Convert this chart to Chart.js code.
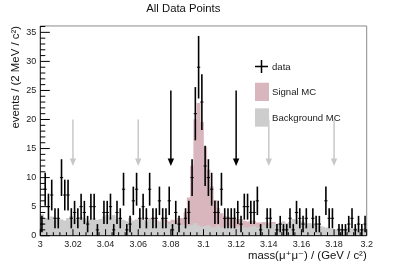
<!DOCTYPE html>
<html>
<head>
<meta charset="utf-8">
<script src="https://cdn.jsdelivr.net/npm/chart.js@4.4.0/dist/chart.umd.min.js"></script>
<style>
  html, body { margin: 0; padding: 0; background: #fff; }
  #wrap { width: 407px; height: 263px; }
</style>
</head>
<body>
<div id="wrap"><canvas id="myChart" width="407" height="263"></canvas></div>
<script>
// histogram binning: 100 bins of 2 MeV from 3.0 to 3.2 GeV
const binLow = 3.0;
const binWidth = 0.002;

// data counts per bin
const dataCounts = [
    2, 8, 5, 7, 3, 3, 10, 7, 7, 3,
    4, 3, 5, 4, 2, 5, 5, 1, 0, 4,
    4, 5, 1, 4, 3, 8, 1, 2, 6, 8,
    3, 5, 3, 8, 3, 3, 6, 3, 3, 6,
    1, 4, 2, 0, 3, 4, 10, 21, 29, 23,
    12, 10, 8, 4, 4, 8, 3, 3, 3, 3,
    4, 2, 5, 5, 4, 4, 6, 1, 0, 3,
    3, 0, 1, 2, 1, 1, 3, 1, 4, 3,
    2, 3, 0, 3, 2, 2, 0, 6, 3, 3,
    0, 1, 1, 1, 2, 3, 1, 2, 1, 2
];

// background MC (grey)
const backgroundMC = [
    3.6, 3.0, 2.8, 3.2, 2.6, 2.9, 2.7, 2.5, 3.0, 3.3,
    2.8, 2.6, 3.1, 2.9, 2.4, 2.7, 3.0, 2.6, 2.8, 3.2,
    3.5, 3.1, 3.4, 2.8, 3.0, 2.6, 2.4, 2.9, 2.5, 2.7,
    2.8, 2.5, 2.3, 2.9, 2.6, 2.4, 2.2, 2.6, 2.3, 2.0,
    2.2, 1.9, 2.1, 1.7, 1.9, 1.6, 1.8, 2.1, 1.7, 1.5,
    1.6, 1.8, 1.4, 1.5, 1.7, 1.3, 1.5, 1.6, 1.4, 1.3,
    1.5, 1.6, 1.4, 1.3, 1.5, 1.6, 1.4, 1.5, 1.7, 1.6,
    1.8, 2.0, 1.7, 1.9, 2.2, 2.0, 2.3, 2.8, 2.6, 2.4,
    2.2, 2.0, 2.1, 1.9, 1.8, 1.6, 1.5, 1.3, 1.2, 1.1,
    1.0, 1.2, 1.1, 1.0, 1.3, 1.1, 1.2, 1.0, 1.1, 1.2
];

// signal MC (pink), stacked on top of background
const signalMC = [
    0, 0, 0, 0, 0, 0, 0, 0, 0, 0,
    0, 0, 0, 0, 0, 0, 0, 0, 0, 0,
    0, 0, 0, 0, 0, 0, 0, 0, 0, 0,
    0.1, 0.1, 0.1, 0.1, 0.2, 0.2, 0.2, 0.3, 0.3, 0.4,
    0.5, 0.7, 0.9, 1.3, 2.1, 4.9, 10.2, 17.9, 21.1, 18.0,
    13.7, 9.5, 7.0, 4.6, 3.0, 2.5, 1.8, 1.6, 1.6, 1.5,
    1.3, 1.2, 1.1, 1.1, 1.0, 0.9, 0.8, 0.7, 0.6, 0.5,
    0.4, 0.3, 0.3, 0.2, 0.2, 0.1, 0, 0, 0, 0,
    0, 0, 0, 0, 0, 0, 0, 0, 0, 0,
    0, 0, 0, 0, 0, 0, 0, 0, 0, 0
];

const binCenters = dataCounts.map((_, i) => +(binLow + binWidth * (i + 0.5)).toFixed(4));

const xTickValues = [3, 3.02, 3.04, 3.06, 3.08, 3.1, 3.12, 3.14, 3.16, 3.18, 3.2];
const xTickLabels = ['3', '3.02', '3.04', '3.06', '3.08', '3.1', '3.12', '3.14', '3.16', '3.18', '3.2'];
const yTickValues = [0, 5, 10, 15, 20, 25, 30, 35];

// signal window arrows (black) and sideband arrows (grey)
const blackArrowX = [3.08, 3.12];
const greyArrowX = [3.02, 3.06, 3.14, 3.18];
const blackArrowTop = 25;
const greyArrowTop = 20;
const arrowTip = 12;

const FONT = '"Liberation Sans", Arial, "DejaVu Sans", sans-serif';
const PINK = 'rgb(217, 182, 190)';
const GREY = 'rgb(205, 205, 205)';

function drawArrow(ctx, px, yTop, yTip, color) {
    ctx.strokeStyle = color;
    ctx.fillStyle = color;
    ctx.lineWidth = 1.5;
    ctx.beginPath();
    ctx.moveTo(px, yTop);
    ctx.lineTo(px, yTip - 6);
    ctx.stroke();
    ctx.beginPath();
    ctx.moveTo(px - 3.2, yTip - 7.5);
    ctx.lineTo(px + 3.2, yTip - 7.5);
    ctx.lineTo(px, yTip);
    ctx.closePath();
    ctx.fill();
}

const rootStyle = {
    id: 'rootStyle',
    afterDatasetsDraw(chart) {
        const ctx = chart.ctx;
        const xs = chart.scales.x;
        const ys = chart.scales.y;
        const area = chart.chartArea;
        ctx.save();

        // arrows
        greyArrowX.forEach(v => drawArrow(ctx, xs.getPixelForValue(v), ys.getPixelForValue(greyArrowTop), ys.getPixelForValue(arrowTip), 'rgb(200,200,200)'));
        blackArrowX.forEach(v => drawArrow(ctx, xs.getPixelForValue(v), ys.getPixelForValue(blackArrowTop), ys.getPixelForValue(arrowTip), '#000'));

        // data points with error bars
        ctx.strokeStyle = '#000';
        ctx.fillStyle = '#000';
        dataCounts.forEach((n, i) => {
            if (n == 0) return;
            const err = Math.sqrt(n);
            const px = xs.getPixelForValue(binCenters[i]);
            const py = ys.getPixelForValue(n);
            ctx.lineWidth = 1.6;
            ctx.beginPath();
            ctx.moveTo(px, ys.getPixelForValue(n + err));
            ctx.lineTo(px, ys.getPixelForValue(Math.max(n - err, 0)));
            ctx.stroke();
            ctx.lineWidth = 1;
            ctx.beginPath();
            ctx.moveTo(xs.getPixelForValue(binCenters[i] - binWidth / 2), py);
            ctx.lineTo(xs.getPixelForValue(binCenters[i] + binWidth / 2), py);
            ctx.stroke();
        });

        // frame
        ctx.lineWidth = 1;
        ctx.strokeStyle = 'rgb(140,140,140)';
        ctx.beginPath();
        ctx.moveTo(area.left, area.top);
        ctx.lineTo(area.right, area.top);
        ctx.lineTo(area.right, area.bottom);
        ctx.stroke();
        ctx.strokeStyle = '#000';
        ctx.beginPath();
        ctx.moveTo(area.left, area.top);
        ctx.lineTo(area.left, area.bottom);
        ctx.lineTo(area.right, area.bottom);
        ctx.stroke();

        // inward ticks, ROOT style
        for (let v = 0; v <= 36; v++) {
            const py = ys.getPixelForValue(v);
            const len = v % 5 == 0 ? 9.5 : 5;
            ctx.beginPath();
            ctx.moveTo(area.left, py);
            ctx.lineTo(area.left + len, py);
            ctx.stroke();
        }
        for (let k = 0; k <= 50; k++) {
            const px = xs.getPixelForValue(binLow + k * 0.004);
            const len = k % 5 == 0 ? 6.5 : 3.5;
            ctx.beginPath();
            ctx.moveTo(px, area.bottom);
            ctx.lineTo(px, area.bottom - len);
            ctx.stroke();
        }

        // legend
        ctx.lineWidth = 1.5;
        ctx.beginPath();
        ctx.moveTo(255, 66.5);
        ctx.lineTo(268, 66.5);
        ctx.moveTo(261.5, 60);
        ctx.lineTo(261.5, 73);
        ctx.stroke();
        ctx.fillStyle = PINK;
        ctx.fillRect(255, 82.7, 14, 18.3);
        ctx.fillStyle = GREY;
        ctx.fillRect(255, 108.3, 14, 18.4);
        ctx.fillStyle = '#222';
        ctx.font = '9.6px ' + FONT;
        ctx.textBaseline = 'middle';
        ctx.textAlign = 'left';
        ctx.fillText('data', 272, 67);
        ctx.fillText('Signal MC', 272, 92);
        ctx.fillText('Background MC', 272, 118);

        ctx.restore();
    }
};

const ctx = document.getElementById('myChart').getContext('2d');

const myChart = new Chart(ctx, {
    type: 'bar',
    data: {
        datasets: [
            {
                label: 'Background MC',
                data: binCenters.map((x, i) => ({ x: x, y: backgroundMC[i] })),
                backgroundColor: GREY,
                borderWidth: 0,
                stack: 'mc',
                barPercentage: 1,
                categoryPercentage: 1
            },
            {
                label: 'Signal MC',
                data: binCenters.map((x, i) => ({ x: x, y: signalMC[i] })),
                backgroundColor: PINK,
                borderWidth: 0,
                stack: 'mc',
                barPercentage: 1,
                categoryPercentage: 1
            }
        ]
    },
    options: {
        responsive: false,
        animation: false,
        devicePixelRatio: 1,
        layout: { padding: { left: 0, right: 40.3, top: 0, bottom: 0 } },
        plugins: {
            legend: { display: false },
            tooltip: { enabled: false },
            title: {
                display: true,
                text: 'All Data Points',
                color: '#111',
                font: { family: FONT, size: 11.3, weight: 'normal' },
                padding: { top: 2.5, bottom: 9.9 }
            }
        },
        scales: {
            x: {
                type: 'linear',
                min: 3.0,
                max: 3.2,
                offset: false,
                grid: { display: false, drawTicks: false },
                border: { display: false },
                afterBuildTicks: (scale) => { scale.ticks = xTickValues.map(v => ({ value: v })); },
                afterFit: (scale) => { scale.height = 27.3; },
                ticks: {
                    autoSkip: false,
                    maxRotation: 0,
                    padding: 3,
                    color: '#222',
                    font: { family: FONT, size: 9 },
                    callback: (value, index) => xTickLabels[index]
                },
                title: {
                    display: true,
                    text: 'mass(μ⁺μ⁻) / (GeV / c²)',
                    align: 'end',
                    color: '#111',
                    font: { family: FONT, size: 11.4 },
                    padding: { top: 0, bottom: 0 }
                }
            },
            y: {
                stacked: true,
                min: 0,
                max: 36.1,
                grid: { display: false, drawTicks: false },
                border: { display: false },
                afterBuildTicks: (scale) => { scale.ticks = yTickValues.map(v => ({ value: v })); },
                afterFit: (scale) => { scale.width = 40.3; },
                ticks: {
                    padding: 4,
                    color: '#222',
                    font: { family: FONT, size: 9 }
                },
                title: {
                    display: true,
                    text: 'events / (2 MeV / c²)',
                    align: 'end',
                    color: '#111',
                    font: { family: FONT, size: 11.4 },
                    padding: { top: 9, bottom: 0 }
                }
            }
        }
    },
    plugins: [rootStyle]
});
</script>
</body>
</html>
